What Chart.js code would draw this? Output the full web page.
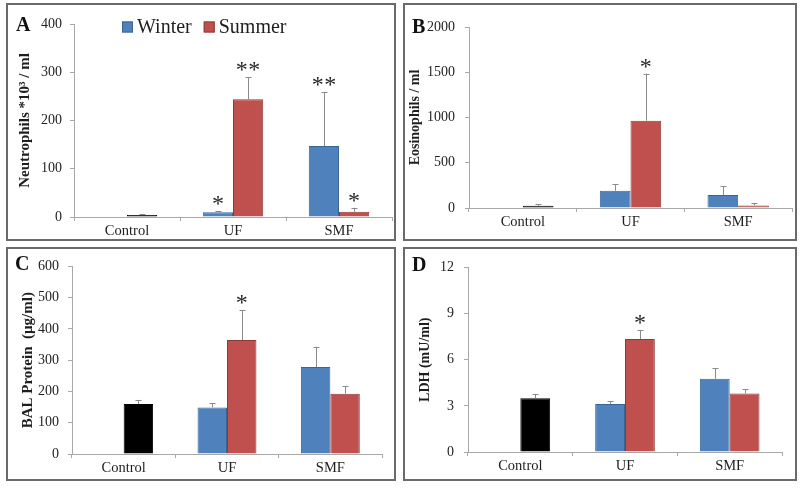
<!DOCTYPE html>
<html>
<head>
<meta charset="utf-8">
<script src="https://cdn.jsdelivr.net/npm/chart.js@4/dist/chart.umd.min.js"></script>
<style>
  html, body { margin: 0; padding: 0; background: #fff; }
  #wrap { position: relative; width: 800px; height: 490px; background: #fff; }
  .panel { position: absolute; box-sizing: border-box; border: 2px solid #6a6a6a; }
  .panel canvas { position: absolute; left: 0; top: 0; }
</style>
</head>
<body>
<div id="wrap">
  <div class="panel" style="left:6px;top:3px;width:390px;height:238px"><canvas id="cA" width="386" height="234"></canvas></div>
  <div class="panel" style="left:403px;top:3px;width:394px;height:238px"><canvas id="cB" width="390" height="234"></canvas></div>
  <div class="panel" style="left:6px;top:247px;width:390px;height:234px"><canvas id="cC" width="386" height="230"></canvas></div>
  <div class="panel" style="left:403px;top:247px;width:394px;height:234px"><canvas id="cD" width="390" height="230"></canvas></div>
</div>
<script>
// ---------- data ----------
const categories = ['Control', 'UF', 'SMF'];
const seriesNames = ['Winter', 'Summer'];

// Panel A: Neutrophils *10^3 / ml
const neutWinter     = [null, 10, 147];
const neutWinterErr  = [null, 2, 112];
const neutSummer     = [4, 244, 11];
const neutSummerErr  = [1.5, 46, 8];
const neutWinterSig  = ['', '*', '**'];
const neutSummerSig  = ['', '**', '*'];
const neutTicks      = [0, 400, 100];

// Panel B: Eosinophils / ml
const eosWinter      = [null, 190, 143];
const eosWinterErr   = [null, 74, 95];
const eosSummer      = [25, 965, 29];
const eosSummerErr   = [14, 520, 26];
const eosWinterSig   = ['', '', ''];
const eosSummerSig   = ['', '*', ''];
const eosTicks       = [0, 2000, 500];

// Panel C: BAL Protein (µg/ml)
const protWinter     = [null, 149, 278];
const protWinterErr  = [null, 14, 65];
const protSummer     = [160, 365, 193];
const protSummerErr  = [13, 96, 23];
const protWinterSig  = ['', '', ''];
const protSummerSig  = ['', '*', ''];
const protTicks      = [0, 600, 100];

// Panel D: LDH (mU/ml)
const ldhWinter      = [null, 3.12, 4.76];
const ldhWinterErr   = [null, 0.17, 0.67];
const ldhSummer      = [3.5, 7.34, 3.81];
const ldhSummerErr   = [0.28, 0.59, 0.28];
const ldhWinterSig   = ['', '', ''];
const ldhSummerSig   = ['', '*', ''];
const ldhTicks       = [0, 12, 3];

// ---------- styles ----------
const SERIF = '"Liberation Serif", "Times New Roman", serif';
const BLUE = '#4F81BD', BLUE_B = '#3A6593';
const RED = '#C0504D', RED_B = '#8E3A38';
const CTRL = '#000000';
const AXIS = '#a8a8a8';
const TEXT = '#1e1e1e';

const extras = {};

const decor = {
  id: 'decor',
  afterDatasetsDraw(chart) {
    const ex = extras[chart.canvas.id];
    if (!ex) return;
    const ctx = chart.ctx;
    const ys = chart.scales.y;
    ctx.save();
    ex.series.forEach((s, di) => {
      const meta = chart.getDatasetMeta(di);
      meta.data.forEach((bar, i) => {
        const v = s.values[i];
        if (v === null || v === undefined) return;
        const top = ys.getPixelForValue(v + s.errors[i]);
        const x = Math.round(bar.x) + 0.5;
        ctx.strokeStyle = '#8a8a8a';
        ctx.lineWidth = 1;
        ctx.beginPath();
        ctx.moveTo(x, bar.y);
        ctx.lineTo(x, top);
        ctx.moveTo(x - 3, Math.round(top) + 0.5);
        ctx.lineTo(x + 3, Math.round(top) + 0.5);
        ctx.stroke();
        const sig = s.sig[i];
        if (sig) {
          ctx.fillStyle = '#262626';
          ctx.font = '24px ' + SERIF;
          ctx.textAlign = 'center';
          ctx.textBaseline = 'alphabetic';
          const n = sig.length, gap = 12.5;
          for (let k = 0; k < n; k++) {
            const cx = bar.x + (k - (n - 1) / 2) * gap;
            ctx.fillText('*', cx, top);
          }
        }
      });
    });
    // panel letter
    ctx.fillStyle = '#111';
    ctx.font = 'bold 20px ' + SERIF;
    ctx.textAlign = 'left';
    ctx.textBaseline = 'alphabetic';
    ctx.fillText(ex.letter, ex.letterX, ex.letterY);
    // legend
    if (ex.legend) {
      const L = ex.legend;
      ctx.font = '20px ' + SERIF;
      ctx.textBaseline = 'middle';
      let x = L.x;
      const items = [[seriesNames[0], BLUE, BLUE_B], [seriesNames[1], RED, RED_B]];
      items.forEach(([name, fill, stroke]) => {
        ctx.fillStyle = fill;
        ctx.fillRect(x, L.y - 5.5, 11, 11);
        ctx.strokeStyle = stroke;
        ctx.lineWidth = 1;
        ctx.strokeRect(x + 0.5, L.y - 5, 10, 10);
        ctx.fillStyle = TEXT;
        ctx.fillText(name, x + 15, L.y + 1);
        x += 15 + ctx.measureText(name).width + 12;
      });
    }
    ctx.restore();
  }
};

function makeChart(id, cfg) {
  extras[id] = {
    series: [
      { values: cfg.winter, errors: cfg.winterErr, sig: cfg.winterSig },
      { values: cfg.summer, errors: cfg.summerErr, sig: cfg.summerSig }
    ],
    letter: cfg.letter, letterX: cfg.letterX, letterY: cfg.letterY,
    legend: cfg.legend || null
  };
  const summerColors = cfg.summer.map((v, i) => i === 0 ? CTRL : RED);
  const summerBorders = cfg.summer.map((v, i) => i === 0 ? CTRL : RED_B);
  new Chart(document.getElementById(id), {
    type: 'bar',
    data: {
      labels: categories,
      datasets: [
        { label: seriesNames[0], data: cfg.winter, backgroundColor: BLUE, borderColor: BLUE_B, borderWidth: 1,
          categoryPercentage: 0.57, barPercentage: 1.0 },
        { label: seriesNames[1], data: cfg.summer, backgroundColor: summerColors, borderColor: summerBorders, borderWidth: 1,
          categoryPercentage: 0.57, barPercentage: 1.0 }
      ]
    },
    options: {
      responsive: false,
      animation: false,
      devicePixelRatio: 1,
      layout: { padding: { left: 0, right: cfg.padR, top: cfg.padT, bottom: 0 } },
      plugins: { legend: { display: false }, tooltip: { enabled: false } },
      scales: {
        x: {
          offset: true,
          grid: { display: true, drawOnChartArea: false, offset: true, tickLength: 4, color: AXIS, lineWidth: 1 },
          border: { display: true, color: AXIS, width: 1 },
          ticks: { color: TEXT, font: { family: SERIF, size: 14.5 }, padding: 1, maxRotation: 0 },
          afterFit: (s) => { s.height = cfg.xH; }
        },
        y: {
          min: cfg.ticks[0], max: cfg.ticks[1],
          grid: { display: true, drawOnChartArea: false, tickLength: 4, color: AXIS, lineWidth: 1 },
          border: { display: true, color: AXIS, width: 1 },
          ticks: { stepSize: cfg.ticks[2], color: TEXT, font: { family: SERIF, size: 14 }, padding: cfg.tickPad,
                   callback: (v) => String(v) },
          title: { display: true, text: cfg.title, color: TEXT,
                   font: { family: SERIF, size: cfg.titleSize, weight: 'bold' },
                   padding: { top: cfg.titlePad, bottom: 0 } },
          afterFit: (s) => { s.width = cfg.yW; }
        }
      }
    },
    plugins: [decor]
  });
}

makeChart('cA', {
  winter: neutWinter, winterErr: neutWinterErr, winterSig: neutWinterSig,
  summer: neutSummer, summerErr: neutSummerErr, summerSig: neutSummerSig,
  ticks: neutTicks, title: 'Neutrophils *10³ / ml', titleSize: 15, titlePad: 8, tickPad: 8,
  yW: 66, xH: 22, padR: 2, padT: 19,
  letter: 'A', letterX: 8, letterY: 26,
  legend: { x: 114, y: 22 }
});
makeChart('cB', {
  winter: eosWinter, winterErr: eosWinterErr, winterSig: eosWinterSig,
  summer: eosSummer, summerErr: eosSummerErr, summerSig: eosSummerSig,
  ticks: eosTicks, title: 'Eosinophils / ml', titleSize: 14, titlePad: 2, tickPad: 10,
  yW: 64, xH: 31, padR: 3, padT: 22,
  letter: 'B', letterX: 7, letterY: 28
});
makeChart('cC', {
  winter: protWinter, winterErr: protWinterErr, winterSig: protWinterSig,
  summer: protSummer, summerErr: protSummerErr, summerSig: protSummerSig,
  ticks: protTicks, title: 'BAL Protein  (µg/ml)', titleSize: 15, titlePad: 11, tickPad: 9,
  yW: 64, xH: 25, padR: 12, padT: 11,
  letter: 'C', letterX: 7, letterY: 21
});
makeChart('cD', {
  winter: ldhWinter, winterErr: ldhWinterErr, winterSig: ldhWinterSig,
  summer: ldhSummer, summerErr: ldhSummerErr, summerSig: ldhSummerSig,
  ticks: ldhTicks, title: 'LDH (mU/ml)', titleSize: 14, titlePad: 12, tickPad: 10,
  yW: 63, xH: 27, padR: 13, padT: 11,
  letter: 'D', letterX: 7, letterY: 22
});
</script>
</body>
</html>
